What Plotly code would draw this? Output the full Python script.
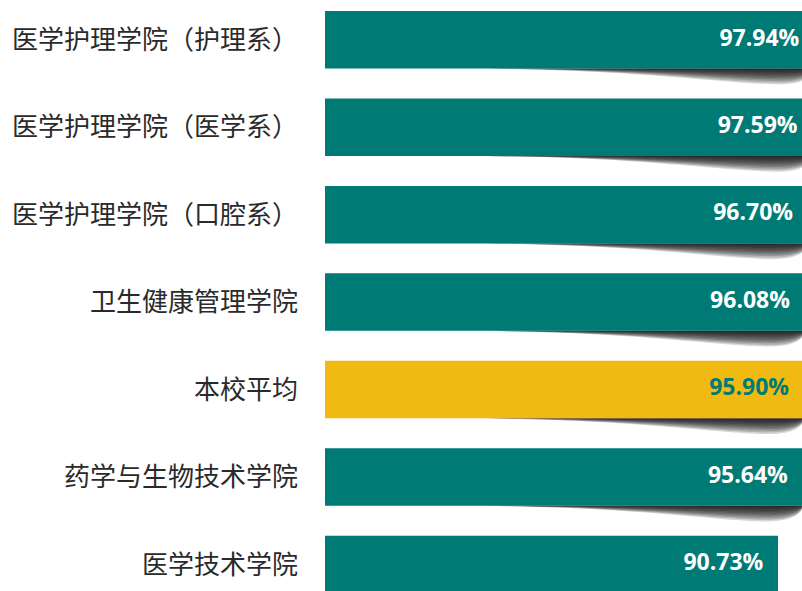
import plotly.graph_objects as go

# 各学院比率（由上至下）
colleges = [
    "医学护理学院（护理系）",
    "医学护理学院（医学系）",
    "医学护理学院（口腔系）",
    "卫生健康管理学院",
    "本校平均",
    "药学与生物技术学院",
    "医学技术学院",
]
rates = [97.94, 97.59, 96.70, 96.08, 95.90, 95.64, 90.73]
avg_label = "本校平均"

TEAL = "#007a74"
GOLD = "#f0ba12"
BAR_W = 0.658

pos = list(range(len(colleges)))
bar_colors = [GOLD if c == avg_label else TEAL for c in colleges]
txt_colors = [TEAL if c == avg_label else "#ffffff" for c in colleges]

fig = go.Figure()
fig.add_trace(go.Bar(
    x=rates, y=pos, orientation="h", width=BAR_W,
    marker=dict(color=bar_colors, line=dict(width=0)),
    hoverinfo="skip",
))
# 数值标签（放在柱子末端内侧）
fig.add_trace(go.Scatter(
    x=rates, y=pos, mode="markers+text",
    text=[f"{v:.2f}%" for v in rates],
    textposition="middle left",
    marker=dict(size=22, color="rgba(0,0,0,0)"),
    textfont=dict(family="Open Sans", size=23, color=txt_colors, weight="bold"),
    cliponaxis=True, hoverinfo="skip",
))

# 柱子下方的卷边阴影：多层半透明叠加
shapes = []
N = 10
DEPTH = 0.18
for i, v in zip(pos, rates):
    b = i + BAR_W / 2
    x0 = 0.28 * v
    L = v - x0
    for k in range(1, N + 1):
        d = DEPTH * k / N
        path = (f"M {x0},{b} "
                f"C {x0 + 0.5 * L},{b} {x0 + 0.75 * L},{b + d} {x0 + 0.9 * L},{b + d} "
                f"C {x0 + 0.97 * L},{b + d} {v},{b + 0.5 * d} {v},{b} Z")
        shapes.append(dict(type="path", path=path, xref="x", yref="y", layer="below",
                           fillcolor="rgba(0,0,0,0.16)", line=dict(width=0)))

fig.update_layout(
    width=802, height=591,
    margin=dict(l=325, r=0, t=0, b=0),
    plot_bgcolor="white", paper_bgcolor="white",
    showlegend=False,
    shapes=shapes,
    xaxis=dict(range=[0, 95.53], visible=False, fixedrange=True),
    yaxis=dict(
        range=[6.304, -0.455], tickvals=pos, ticktext=colleges,
        showgrid=False, zeroline=False, showline=False, ticks="",
        ticklabelstandoff=26,
        tickfont=dict(family="Noto Sans CJK SC", size=26, color="#2a2a2a"),
        fixedrange=True,
    ),
)

# 去掉页面默认边距，让图正好铺满窗口
fig.write_html(
    "out.html",
    config={"displayModeBar": False},
    post_script="document.body.style.margin='0';document.body.style.overflow='hidden';",
)
